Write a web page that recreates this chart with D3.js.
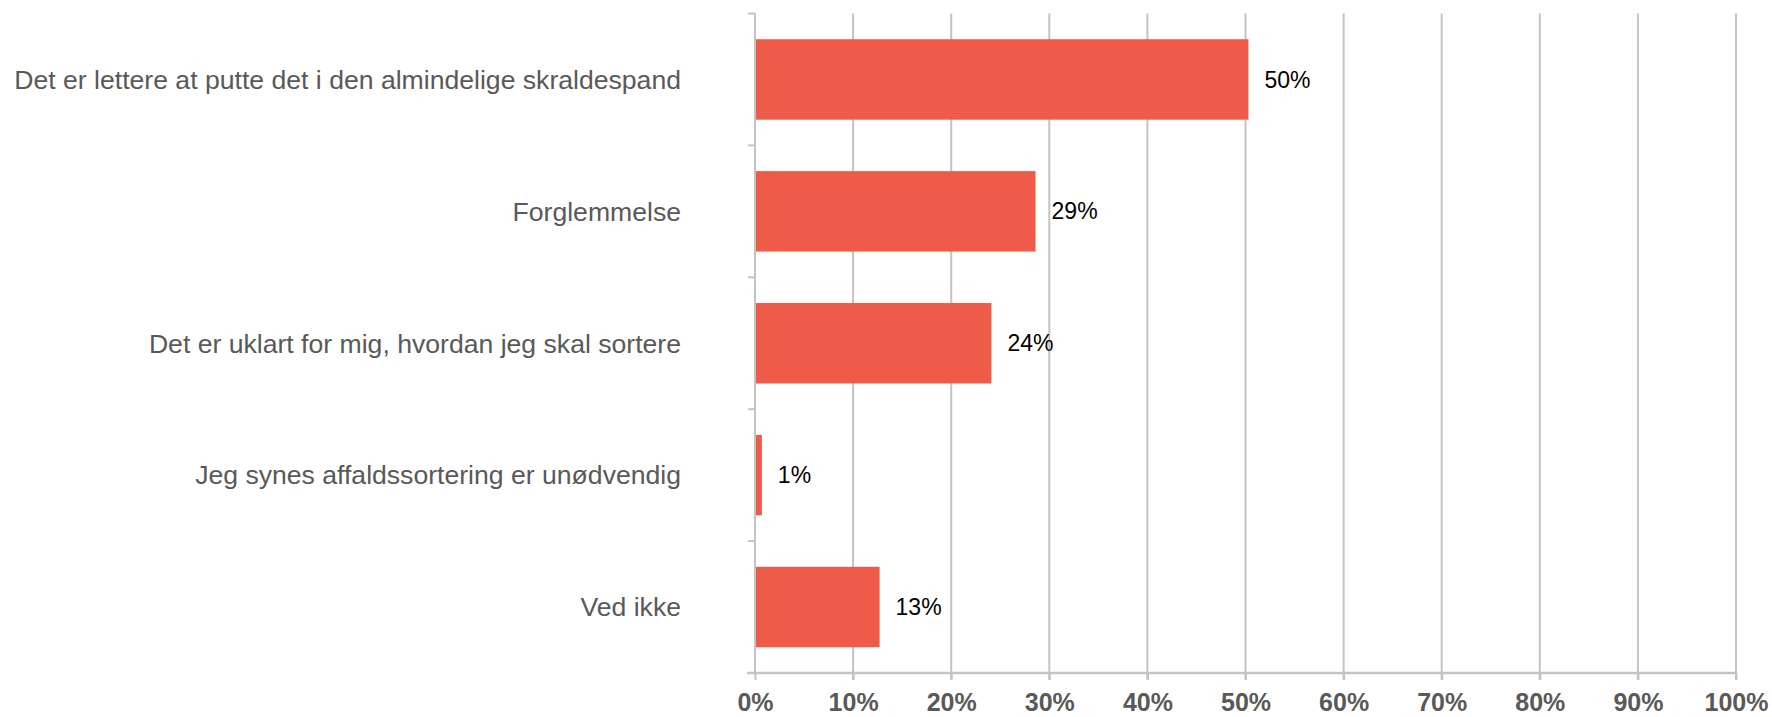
<!DOCTYPE html>
<html><head><meta charset="utf-8">
<script src="https://cdn.jsdelivr.net/npm/d3@7"></script>
<style>body{margin:0;background:#fff}svg{display:block}</style>
</head><body>
<svg id="c" width="1772" height="717"></svg>
<script>
const categories = [
  "Det er lettere at putte det i den almindelige skraldespand",
  "Forglemmelse",
  "Det er uklart for mig, hvordan jeg skal sortere",
  "Jeg synes affaldssortering er unødvendig",
  "Ved ikke"
];
const values = [50.3, 28.6, 24.1, 0.7, 12.7];
const valueLabels = ["50%", "29%", "24%", "1%", "13%"];
const ticks = [0, 10, 20, 30, 40, 50, 60, 70, 80, 90, 100];

const svg = d3.select("#c");
const m = {left: 755, right: 1736, top: 13.5, bottom: 673};
const x = d3.scaleLinear().domain([0, 100]).range([m.left, m.right]);
const y = d3.scaleBand().domain(categories).range([m.top, m.bottom]).paddingInner(0.39).paddingOuter(0.195);
const yb = d3.scaleBand().domain(categories).range([m.top, m.bottom]);
const grid = "#c3c3c1";

// gridlines
svg.append("g").selectAll("line").data(ticks.slice(1)).join("line")
  .attr("x1", d => x(d)).attr("x2", d => x(d))
  .attr("y1", m.top).attr("y2", m.bottom + 7)
  .attr("stroke", grid).attr("stroke-width", 2);

// x axis
const xa = svg.append("g").attr("transform", `translate(0,${m.bottom})`)
  .call(d3.axisBottom(x).tickValues(ticks).tickFormat(d => d + "%").tickSize(7).tickPadding(13));
xa.select(".domain").attr("stroke", grid).attr("stroke-width", 2.5)
  .attr("d", `M${m.left - 8},0H${m.right}`);
xa.selectAll(".tick line").attr("stroke", grid).attr("stroke-width", 2);
xa.selectAll(".tick text").attr("fill", "#595959").attr("font-family", "Liberation Sans, Arial, sans-serif")
  .attr("font-size", 25).attr("font-weight", "bold");

// y axis line with boundary ticks
svg.append("line").attr("x1", m.left).attr("x2", m.left).attr("y1", m.top).attr("y2", m.bottom)
  .attr("stroke", grid).attr("stroke-width", 2);
const bounds = categories.map(c => yb(c)).concat([m.bottom]);
svg.append("g").selectAll("line").data(bounds).join("line")
  .attr("x1", m.left - 7).attr("x2", m.left).attr("y1", d => d).attr("y2", d => d)
  .attr("stroke", grid).attr("stroke-width", 2);

// category labels
svg.append("g").selectAll("text").data(categories).join("text")
  .attr("x", 681).attr("y", d => yb(d) + yb.bandwidth() / 2)
  .attr("dy", "0.35em").attr("text-anchor", "end")
  .attr("fill", "#595959").attr("font-family", "Liberation Sans, Arial, sans-serif").attr("font-size", 26.6)
  .text(d => d);

// bars
svg.append("g").selectAll("rect").data(categories).join("rect")
  .attr("x", x(0) + 1).attr("y", d => y(d))
  .attr("width", (d, i) => x(values[i]) - x(0) - 1).attr("height", y.bandwidth())
  .attr("fill", "#ee5c49");

// value labels
svg.append("g").selectAll("text").data(categories).join("text")
  .attr("x", (d, i) => x(values[i]) + 16).attr("y", d => y(d) + y.bandwidth() / 2)
  .attr("dy", "0.35em").attr("fill", "#000")
  .attr("font-family", "Liberation Sans, Arial, sans-serif").attr("font-size", 23)
  .text((d, i) => valueLabels[i]);
</script>
</body></html>
